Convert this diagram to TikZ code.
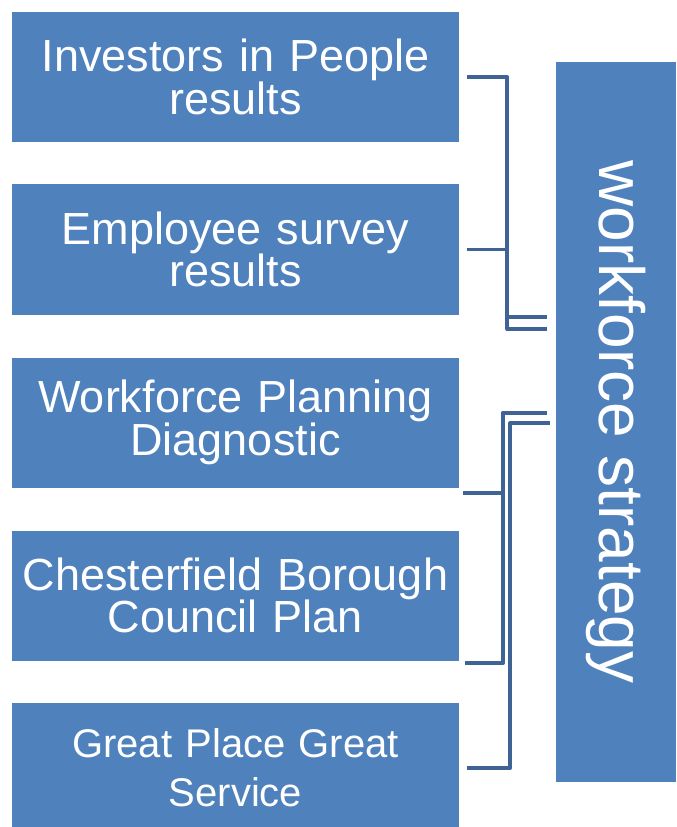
\documentclass[tikz,border=0pt]{standalone}
\usepackage{fontspec}
\setmainfont{Liberation Sans}
\usepackage{tikz}
\usepackage{color}
\definecolor{boxblue}{HTML}{4F81BD}
\definecolor{linkblue}{HTML}{3E6394}

\tikzset{
  srcbox/.style={fill=boxblue, text=white, minimum width=335.25pt, minimum height=97.5pt,
    text width=330pt, align=center, inner sep=0pt,
    font=\fontsize{33.75pt}{32pt}\selectfont},
  goalbox/.style={fill=boxblue, text=white, minimum width=540pt, minimum height=90pt,
    inner sep=0pt, rotate=-90, font=\fontsize{48pt}{56pt}\selectfont},
  link/.style={draw=linkblue, line width=2.8pt, line join=round}
}

\begin{document}
\begin{tikzpicture} [x=0.75pt, y=-0.75pt]
\clip (0,0) rectangle (676,827);
\node [srcbox] (iip) at (235.5,77) {Investors in People\\results};
\node [srcbox] (survey) at (235.5,249.5) {Employee survey\\results};
\node [srcbox] (wpd) at (235.5,422.5) {Workforce Planning\\Diagnostic};
\node [srcbox] (cbc) at (235.5,595.5) {Chesterfield Borough\\Council Plan};
\node [srcbox, font=\fontsize{30pt}{37pt}\selectfont] (gpgs) at (235.5,768) {Great Place Great\\Service};
\node [goalbox] (ws) at (616,422) {workforce strategy};
\coordinate (t1) at (547,329);
\coordinate (t2) at (547,317);
\coordinate (t3) at (547,413);
\coordinate (t5) at (550,423);
\draw [link] ([xshift=6]iip.east) -- ++(40,0) |- (t1);
\draw [link] ([xshift=6]survey.east) -- ++(40,0) |- (t2);
\draw [link] ([shift={(4,5)}]wpd.south east) -- ++(40,0) |- (t3);
\draw [link] ([shift={(6,2)}]cbc.south east) -- ++(38,0) |- (t3);
\draw [link] ([xshift=6]gpgs.east) -- ++(43,0) |- (t5);
\end{tikzpicture}
\end{document}
